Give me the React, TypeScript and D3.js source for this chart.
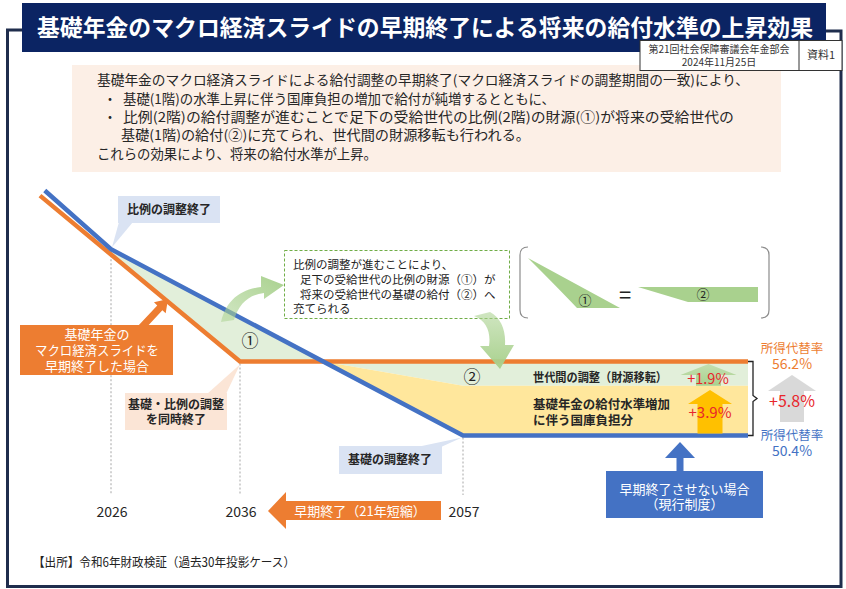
import React from 'react';
import * as d3 from 'd3';

const FONT = "'Noto Sans CJK JP', 'Noto Sans', sans-serif";

// ---------------- data ----------------
const titleText = '基礎年金のマクロ経済スライドの早期終了による将来の給付水準の上昇効果';
const meetingLines = ['第21回社会保障審議会年金部会', '2024年11月25日'];
const docLabel = '資料1';
const introLines = [
  '基礎年金のマクロ経済スライドによる給付調整の早期終了(マクロ経済スライドの調整期間の一致)により、',
  '基礎(1階)の水準上昇に伴う国庫負担の増加で給付が純増するとともに、',
  '比例(2階)の給付調整が進むことで足下の受給世代の比例(2階)の財源(①)が将来の受給世代の',
  '基礎(1階)の給付(②)に充てられ、世代間の財源移転も行われる。',
  'これらの効果により、将来の給付水準が上昇。',
];
const introBullets = [false, true, true, false, false];
const noteLines = [
  '比例の調整が進むことにより、',
  '足下の受給世代の比例の財源（①）が',
  '将来の受給世代の基礎の給付（②）へ',
  '充てられる',
];
const yearTicks = [2026, 2036, 2057];
const xYears = [2020, 2026, 2036, 2057, 2080];
// current system (blue): replacement ratio path
const currentYears = [2020.4, 2026, 2057, 2080];
const currentRatio = [69.6, 65.0, 50.4, 50.4];
// early termination (orange)
const earlyYears = [2020, 2036, 2080];
const earlyRatio = [69.2, 56.2, 56.2];
const finalEarly = 56.2;
const finalCurrent = 50.4;
const transferGain = 1.9;
const treasuryGain = 3.9;
const totalGain = 5.8;
const sourceText = '【出所】令和6年財政検証（過去30年投影ケース）';

// ---------------- layout ----------------
const introLayout = [
  { x: 97, len: 652 },
  { x: 123, len: 432 },
  { x: 123, len: 611 },
  { x: 121, len: 409 },
  { x: 97, len: 280 },
];
const introY = [80, 99, 117, 135, 154];

const C = {
  navy: '#0b2463',
  frame: '#1f2d4d',
  orange: '#ed7d31',
  blue: '#4472c4',
  green: '#e2efda',
  yellow: '#ffe79c',
  peach: '#fcefe6',
  lightBlue: '#dae3f3',
  lightPeach: '#fbe5d6',
  red: '#e8262c',
  text: '#262626',
};

function T(props: any) {
  const { x, y, s = 13, fill = C.text, w = 400, anchor = 'start', len, children } = props;
  return (
    <text
      x={x}
      y={y}
      fontSize={s}
      fontWeight={w}
      fill={fill}
      textAnchor={anchor}
      dy="0.36em"
      textLength={len}
      lengthAdjust={len ? 'spacingAndGlyphs' : undefined}
    >
      {children}
    </text>
  );
}

function upArrow(cx: number, tip: number, headBase: number, bottom: number, headHalf: number, shaftHalf: number) {
  return `M${cx},${tip} L${cx + headHalf},${headBase} L${cx + shaftHalf},${headBase} L${cx + shaftHalf},${bottom} L${cx - shaftHalf},${bottom} L${cx - shaftHalf},${headBase} L${cx - headHalf},${headBase} Z`;
}

export default function App() {
  const x = d3.scaleLinear().domain(xYears).range([40, 111, 240, 463, 748]);
  const y = d3.scaleLinear().domain([finalCurrent, finalEarly]).range([435.5, 361.5]);
  const line = d3.line<number[]>().x((d) => d[0]).y((d) => d[1]);

  const blue = currentYears.map((yr, i) => [x(yr), y(currentRatio[i])]);
  const orange = earlyYears.map((yr, i) => [x(yr), y(earlyRatio[i])]);

  const yo = y(finalEarly);
  const b1 = blue[1];
  const b2 = blue[2];
  const t = (yo - b1[1]) / (b2[1] - b1[1]);
  const cross = [b1[0] + t * (b2[0] - b1[0]), yo];
  const x26 = x(2026);
  const o0 = orange[0];
  const o1 = orange[1];
  const oy26 = o0[1] + ((x26 - o0[0]) / (o1[0] - o0[0])) * (o1[1] - o0[1]);
  const x57 = x(2057);
  const xEnd = x(2080);
  const yb = y(finalCurrent + treasuryGain);
  const yc = y(finalCurrent);

  const region1 = [b1, cross, o1, [x26, oy26]];
  const region2 = [cross, [xEnd, yo], [xEnd, yb], [x57, yb]];
  const region3 = [cross, [x57, yb], [xEnd, yb], [xEnd, yc], [x57, yc]];

  const dropTop: Record<number, number> = { 2026: b1[1], 2036: yo, 2057: yc };

  // orange pointer arrow
  const tip = [168, 299];
  const tail = [141, 328];
  const dx = tip[0] - tail[0];
  const dy = tip[1] - tail[1];
  const L = Math.hypot(dx, dy);
  const ux = dx / L;
  const uy = dy / L;
  const px = -uy;
  const py = ux;
  const hb = [tip[0] - ux * 12, tip[1] - uy * 12];
  const oArrow = [
    [tail[0] + px * 3.5, tail[1] + py * 3.5],
    [hb[0] + px * 3.5, hb[1] + py * 3.5],
    [hb[0] + px * 8, hb[1] + py * 8],
    tip,
    [hb[0] - px * 8, hb[1] - py * 8],
    [hb[0] - px * 3.5, hb[1] - py * 3.5],
    [tail[0] - px * 3.5, tail[1] - py * 3.5],
  ];

  const yMid = (yo + yc) / 2;

  return (
    <svg
      width={846}
      height={589}
      style={{ position: 'absolute', left: 0, top: 0, background: '#fff' }}
      fontFamily={FONT}
    >
      <defs>
        <linearGradient id="ga" x1="0" y1="1" x2="1" y2="0">
          <stop offset="0" stopColor="#a9d18e" stopOpacity="0.5" />
          <stop offset="1" stopColor="#a9d18e" />
        </linearGradient>
        <linearGradient id="gb" x1="0" y1="0" x2="0" y2="1">
          <stop offset="0" stopColor="#a9d18e" stopOpacity="0.55" />
          <stop offset="1" stopColor="#a9d18e" />
        </linearGradient>
      </defs>
      <rect width={846} height={589} fill="#fff" />

      {/* frame */}
      <path d="M22,30 H7.5 V586.5 H841 V31 H826" fill="none" stroke={C.frame} strokeWidth={3} />
      {/* title */}
      <rect x={22} y={3} width={804} height={49} fill={C.navy} />
      <T x={425} y={28} s={23} w={700} fill="#fff" anchor="middle" len={776}>
        {titleText}
      </T>

      {/* intro box */}
      <rect x={72} y={65} width={709} height={107} fill={C.peach} />
      {introLines.map((s, i) => (
        <g key={i}>
          {introBullets[i] && (
            <T x={110} y={introY[i]} s={13.5} anchor="middle">
              ・
            </T>
          )}
          <T x={introLayout[i].x} y={introY[i]} s={13.5} len={introLayout[i].len}>
            {s}
          </T>
        </g>
      ))}

      {/* meeting info box */}
      <rect x={640} y={40.5} width={202} height={30} fill="#fff" stroke="#333" strokeWidth={1} />
      <line x1={799} y1={40.5} x2={799} y2={70.5} stroke="#333" strokeWidth={1} />
      <T x={719} y={49} s={10} anchor="middle" fill="#333">
        {meetingLines[0]}
      </T>
      <T x={719} y={62} s={10} anchor="middle" fill="#333">
        {meetingLines[1]}
      </T>
      <T x={821} y={55.5} s={11} anchor="middle" fill="#333">
        {docLabel}
      </T>

      {/* areas */}
      <path d={line(region1 as any) + 'Z'} fill={C.green} />
      <path d={line(region2 as any) + 'Z'} fill={C.green} />
      <path d={line(region3 as any) + 'Z'} fill={C.yellow} />

      {/* drop lines */}
      {yearTicks.map((yr) => (
        <line
          key={yr}
          x1={x(yr)}
          x2={x(yr)}
          y1={dropTop[yr] + 2}
          y2={495}
          stroke="#a6a6a6"
          strokeWidth={1}
          strokeDasharray="2,2"
        />
      ))}
      {yearTicks.map((yr) => (
        <T key={'t' + yr} x={x(yr) + 1} y={512} s={14} anchor="middle" fill={C.text}>
          {yr}
        </T>
      ))}

      {/* lines */}
      <path d={line(orange as any) || ''} fill="none" stroke={C.orange} strokeWidth={4.5} />
      <path d={line(blue as any) || ''} fill="none" stroke={C.blue} strokeWidth={4.5} />

      {/* region labels */}
      <T x={250} y={341} s={17} anchor="middle" fill="#222">
        ①
      </T>
      <T x={472} y={377} s={17} anchor="middle" fill="#222">
        ②
      </T>
      <T x={533} y={377} s={12.5} w={700} len={134}>
        世代間の調整（財源移転）
      </T>
      <T x={533} y={404} s={12.5} w={700} len={137}>
        基礎年金の給付水準増加
      </T>
      <T x={533} y={420} s={12.5} w={700}>
        に伴う国庫負担分
      </T>

      {/* gain arrows */}
      <path d={upArrow(708.5, 364, 375, yb, 28, 12.5)} fill="url(#gb)" />
      <T x={708} y={379} s={14.5} anchor="middle" fill={C.red}>
        {'+' + transferGain + '%'}
      </T>
      <path d={upArrow(710, 390, 404, yc - 2, 22, 12.5)} fill="#ffc000" />
      <T x={710} y={413} s={15} anchor="middle" fill={C.red}>
        {'+' + treasuryGain + '%'}
      </T>

      {/* brace */}
      <path
        d={`M748,${yo} H753 V${yMid - 3} L757,${yMid} L753,${yMid + 3} V${yc} H748`}
        fill="none"
        stroke="#222"
        strokeWidth={1.3}
      />
      <path d={upArrow(792, 375, 391, 422, 24, 12)} fill="#d9d9d9" />
      <T x={792} y={401} s={16} anchor="middle" fill={C.red}>
        {'+' + totalGain + '%'}
      </T>
      <T x={792} y={348} s={12.5} anchor="middle" fill={C.orange}>
        所得代替率
      </T>
      <T x={792} y={364} s={14} anchor="middle" fill={C.orange}>
        {finalEarly + '%'}
      </T>
      <T x={792} y={435} s={12.5} anchor="middle" fill={C.blue}>
        所得代替率
      </T>
      <T x={792} y={451} s={14} anchor="middle" fill={C.blue}>
        {finalCurrent + '%'}
      </T>

      {/* callout: 比例の調整終了 */}
      <path d={`M119,222 L133,222 L${b1[0] + 1},${b1[1] - 2} Z`} fill={C.lightBlue} />
      <rect x={118} y={196} width={102} height={27} fill={C.lightBlue} />
      <T x={169} y={210} s={12} w={700} anchor="middle">
        比例の調整終了
      </T>

      {/* orange label */}
      <path d={line(oArrow as any) + 'Z'} fill={C.orange} />
      <rect x={20} y={325} width={153} height={50} fill={C.orange} />
      <T x={97} y={334} s={13} anchor="middle" fill="#fff">
        基礎年金の
      </T>
      <T x={97} y={350} s={13} anchor="middle" fill="#fff" len={124}>
        マクロ経済スライドを
      </T>
      <T x={97} y={366} s={13} anchor="middle" fill="#fff">
        早期終了した場合
      </T>

      {/* callout: 基礎・比例の調整を同時終了 */}
      <path d={`M207,394 L226,394 L${x(2036)},${yo + 3} Z`} fill={C.lightPeach} />
      <rect x={125} y={393} width={102} height={37} fill={C.lightPeach} />
      <T x={176} y={405} s={12} w={700} anchor="middle">
        基礎・比例の調整
      </T>
      <T x={176} y={420} s={12} w={700} anchor="middle">
        を同時終了
      </T>

      {/* callout: 基礎の調整終了 */}
      <path d={`M417,447 L441,447 L${x57 - 1},${yc + 2} Z`} fill={C.lightBlue} />
      <rect x={339} y={446} width={103} height={28} fill={C.lightBlue} />
      <T x={390} y={460} s={12} w={700} anchor="middle">
        基礎の調整終了
      </T>

      {/* note box */}
      <rect
        x={284.5}
        y={250.5}
        width={225}
        height={68}
        fill="#fff"
        stroke="#70ad47"
        strokeWidth={1}
        strokeDasharray="3,2"
      />
      {noteLines.map((s, i) => (
        <T key={i} x={i === 1 || i === 2 ? 300 : 293} y={265 + i * 14.7} s={11.5} fill="#222">
          {s}
        </T>
      ))}

      {/* curved green arrows */}
      <path
        d="M221,322 C226,302 238,290 261,287 L261,276 L284,285 L264,299 L264,293 C248,295 239,304 234,320 Z"
        fill="url(#ga)"
      />
      <path
        d="M474,316 C487,321 491,333 489,346 L480,346 L500,369 L514,345 L505,345 C506,330 501,318 490,312 Z"
        fill="url(#gb)"
      />

      {/* bracket equation */}
      <path d="M528,247 Q520,247 520,255 V310 Q520,318 528,318" fill="none" stroke="#8c8c8c" strokeWidth={1.2} />
      <path d="M761,247 Q769,247 769,255 V310 Q769,318 761,318" fill="none" stroke="#8c8c8c" strokeWidth={1.2} />
      <path d="M528,258 L620,308 L577,308 Q560,290 528,258 Z" fill="#a9d18e" />
      <T x={585} y={300} s={13} anchor="middle" fill="#222">
        ①
      </T>
      <T x={625} y={295} s={22} anchor="middle" fill="#222">
        =
      </T>
      <path d="M638,287 L758,287 L758,302 L688,302 Z" fill="#a9d18e" />
      <T x={703} y={294} s={13} anchor="middle" fill="#222">
        ②
      </T>

      {/* current system box */}
      <path d={upArrow(680, 442, 458, 472, 15, 3.5)} fill={C.blue} />
      <rect x={606} y={471} width={157} height={47} fill={C.blue} />
      <T x={684.5} y={489} s={13} anchor="middle" fill="#fff">
        早期終了させない場合
      </T>
      <T x={684.5} y={504} s={13} anchor="middle" fill="#fff">
        （現行制度）
      </T>

      {/* early-termination arrow */}
      <path d="M268,511 L286,492 L286,501 L441,501 L441,520 L286,520 L286,529 Z" fill={C.orange} />
      <T x={360} y={511} s={13} anchor="middle" fill="#fff">
        早期終了（21年短縮）
      </T>

      {/* source */}
      <T x={33} y={562} s={12.5} fill="#222" len={262}>
        {sourceText}
      </T>
    </svg>
  );
}
